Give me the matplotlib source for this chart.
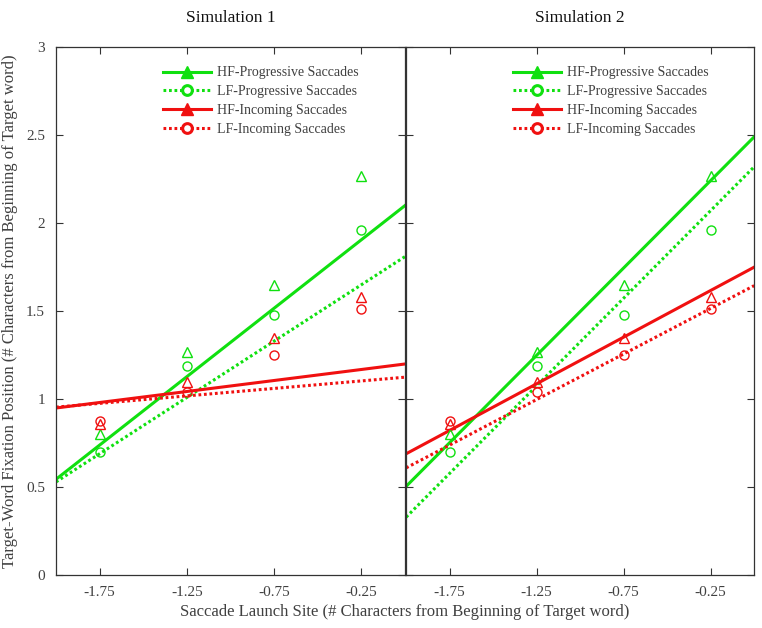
import numpy as np
import matplotlib
matplotlib.use('Agg')
import matplotlib.pyplot as plt
from matplotlib.lines import Line2D

plt.rcParams['font.family'] = ['Liberation Serif', 'DejaVu Serif']

# observed data (same in both panels)
launch_site = [-1.75, -1.25, -0.75, -0.25]
hf_prog = [0.80, 1.27, 1.65, 2.27]
lf_prog = [0.70, 1.19, 1.48, 1.96]
hf_inc = [0.86, 1.10, 1.35, 1.58]
lf_inc = [0.875, 1.04, 1.25, 1.51]

# simulated lines, values at x = -2 and x = 0
line_x = [-2.0, 0.0]
sim_lines = {
    'Simulation 1': {'hf_prog': [0.545, 2.10], 'lf_prog': [0.53, 1.81],
                     'hf_inc': [0.95, 1.20], 'lf_inc': [0.955, 1.125]},
    'Simulation 2': {'hf_prog': [0.505, 2.49], 'lf_prog': [0.33, 2.32],
                     'hf_inc': [0.69, 1.75], 'lf_inc': [0.61, 1.645]},
}

labels = ['HF-Progressive Saccades', 'LF-Progressive Saccades',
          'HF-Incoming Saccades', 'LF-Incoming Saccades']

green = '#10e010'
red = '#f01010'
txt = '#404040'
dotted = (0, (0.9, 0.9))

fig = plt.figure(figsize=(7.62, 6.28), dpi=100)
ax1 = fig.add_axes([0.0735, 0.084, 0.458, 0.841])
ax2 = fig.add_axes([0.533, 0.084, 0.4567, 0.841])

for ax, name in zip([ax1, ax2], sim_lines):
    s = sim_lines[name]
    ax.plot(line_x, s['hf_prog'], color=green, lw=2.2)
    ax.plot(line_x, s['lf_prog'], color=green, lw=2.2, ls=dotted)
    ax.plot(line_x, s['hf_inc'], color=red, lw=2.2)
    ax.plot(line_x, s['lf_inc'], color=red, lw=2.2, ls=dotted)

    ax.plot(launch_site, hf_prog, '^', ms=7, mfc='none', mec=green, mew=1)
    ax.plot(launch_site, lf_prog, 'o', ms=6.5, mfc='none', mec=green, mew=1)
    ax.plot(launch_site, hf_inc, '^', ms=7, mfc='none', mec=red, mew=1)
    ax.plot(launch_site, lf_inc, 'o', ms=6.5, mfc='none', mec=red, mew=1)

    ax.set_xlim(-2, 0)
    ax.set_ylim(0, 3)
    ax.set_xticks(launch_site)
    ax.set_xticklabels(['-1.75', '-1.25', '-0.75', '-0.25'])
    ax.set_yticks(np.arange(0, 3.01, 0.5))
    ax.set_yticklabels(['0', '0.5', '1', '1.5', '2', '2.5', '3'])
    ax.tick_params(direction='in', top=True, right=True, length=5,
                   width=0.8, color='#333333', labelcolor=txt,
                   labelsize=11, pad=8)
    for sp in ax.spines.values():
        sp.set_color('#333333')
        sp.set_linewidth(0.9)
    ax.set_title(name, fontsize=12.5, color='#111111', pad=18)

    handles = [
        Line2D([], [], color=green, lw=2.2, marker='^', ms=8, mfc=green, mec=green),
        Line2D([], [], color=green, lw=2.2, ls=dotted, marker='o', ms=7,
               mfc='white', mec=green, mew=2.2),
        Line2D([], [], color=red, lw=2.2, marker='^', ms=8, mfc=red, mec=red),
        Line2D([], [], color=red, lw=2.2, ls=dotted, marker='o', ms=7,
               mfc='white', mec=red, mew=2.2),
    ]
    leg = ax.legend(handles, labels, loc='upper left', bbox_to_anchor=(0.27, 0.987),
                    frameon=False, fontsize=10, handlelength=3.5,
                    handletextpad=0.4, labelspacing=0.42)
    for t in leg.get_texts():
        t.set_color(txt)

ax2.tick_params(labelleft=False)

ax1.set_ylabel('Target-Word Fixation Position (# Characters from Beginning of Target word)',
               fontsize=12, color=txt, labelpad=6)
fig.text(0.5315, 0.025, 'Saccade Launch Site (# Characters from Beginning of Target word)',
         ha='center', va='center', fontsize=12, color=txt)

fig.savefig('out.png', dpi=100)
